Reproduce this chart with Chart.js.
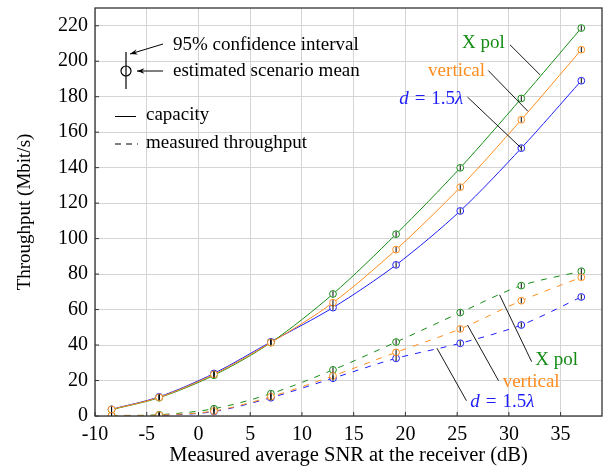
<!DOCTYPE html>
<html>
<head>
<meta charset="utf-8">
<script src="https://cdn.jsdelivr.net/npm/chart.js@4.4.1/dist/chart.umd.min.js"></script>
<style>
  html, body { margin: 0; padding: 0; background: #fff; }
</style>
</head>
<body>
<canvas id="grafico" width="615" height="473"></canvas>
<script>
// measured average SNR (dB) of each scenario
const snr = [-8.4, -3.8, 1.5, 7.0, 13.0, 19.1, 25.3, 31.2, 37.0];

// capacity (Mbit/s)
const capXpol     = [3.6, 10.3, 23.0, 41.4, 68.8, 102.5, 139.9, 179.0, 218.7];
const capVertical = [3.7, 10.5, 23.5, 41.4, 63.9, 93.8, 129.0, 167.0, 206.5];
const capD15      = [3.8, 10.8, 24.0, 41.8, 61.1, 85.2, 115.6, 151.0, 189.0];

// measured throughput (Mbit/s)
const thrXpol     = [0.3, 0.7, 4.1, 12.6, 26.0, 41.7, 58.3, 73.5, 81.6];
const thrVertical = [0.1, 0.5, 2.8, 10.9, 22.6, 35.9, 49.1, 65.0, 78.2];
const thrD15      = [0.0, 0.3, 2.5, 10.3, 21.3, 32.5, 41.0, 51.3, 67.1];

// half width of the 95% confidence interval
const confHalf = 1.5;

const xTicks = [-10, -5, 0, 5, 10, 15, 20, 25, 30, 35];
const yTicks = [0, 20, 40, 60, 80, 100, 120, 140, 160, 180, 200, 220];

const GREEN = 'rgb(20,140,20)';
const ORANGE = 'rgb(255,140,30)';
const BLUE = 'rgb(30,30,250)';
const SERIF = '"Liberation Serif", "Times New Roman", serif';
const TXT = '19px ' + SERIF;

function pts(vals) {
  return snr.map((x, i) => ({ x: x, y: vals[i] }));
}

function serie(label, vals, color, dashed, order) {
  return {
    label: label,
    data: pts(vals),
    borderColor: color,
    backgroundColor: 'white',
    borderWidth: 1,
    borderDash: dashed ? [6, 7] : [],
    tension: 0.3,
    pointRadius: 3.4,
    pointBorderWidth: 1,
    pointBorderColor: color,
    pointBackgroundColor: 'white',
    order: order
  };
}

const data = {
  datasets: [
    serie('capacity vertical', capVertical, ORANGE, false, 1),
    serie('capacity X pol', capXpol, GREEN, false, 2),
    serie('capacity d', capD15, BLUE, false, 3),
    serie('throughput vertical', thrVertical, ORANGE, true, 1),
    serie('throughput X pol', thrXpol, GREEN, true, 2),
    serie('throughput d', thrD15, BLUE, true, 3)
  ]
};

// black confidence bars through each marker
const errorBars = {
  id: 'errorBars',
  afterDatasetsDraw(chart) {
    const c = chart.ctx, ys = chart.scales.y;
    c.save();
    c.strokeStyle = '#000';
    c.lineWidth = 1;
    chart.data.datasets.forEach((ds, i) => {
      const meta = chart.getDatasetMeta(i);
      meta.data.forEach((p, j) => {
        const v = ds.data[j].y;
        c.beginPath();
        c.moveTo(p.x, Math.min(ys.getPixelForValue(v - confHalf), ys.bottom));
        c.lineTo(p.x, ys.getPixelForValue(v + confHalf));
        c.stroke();
      });
    });
    c.restore();
  }
};

function arrow(c, x1, y1, x2, y2) {
  c.beginPath();
  c.moveTo(x1, y1);
  c.lineTo(x2, y2);
  c.stroke();
  const a = Math.atan2(y2 - y1, x2 - x1);
  c.beginPath();
  c.moveTo(x2, y2);
  c.lineTo(x2 - 8 * Math.cos(a - 0.35), y2 - 8 * Math.sin(a - 0.35));
  c.lineTo(x2 - 5 * Math.cos(a), y2 - 5 * Math.sin(a));
  c.lineTo(x2 - 8 * Math.cos(a + 0.35), y2 - 8 * Math.sin(a + 0.35));
  c.closePath();
  c.fill();
}

// d = 1.5λ with italic d and λ, spaced like TeX math
function mathLabel(c, x, y, align) {
  const parts = [
    ['italic ' + TXT, 'd', 6],
    [TXT, '=', 6],
    [TXT, '1.5', 0],
    ['italic ' + TXT, 'λ', 0]
  ];
  let w = 0;
  parts.forEach(p => { c.font = p[0]; w += c.measureText(p[1]).width + p[2]; });
  let cx = align === 'right' ? x - w : x;
  c.textAlign = 'left';
  parts.forEach(p => {
    c.font = p[0];
    c.fillText(p[1], cx, y);
    cx += c.measureText(p[1]).width + p[2];
  });
}

const decor = {
  id: 'decor',
  afterDraw(chart) {
    const c = chart.ctx, a = chart.chartArea;
    const xs = chart.scales.x, ys = chart.scales.y;
    const X = v => xs.getPixelForValue(v), Y = v => ys.getPixelForValue(v);
    c.save();

    // inside tick marks and frame
    c.strokeStyle = '#333';
    c.lineWidth = 1;
    xTicks.forEach(t => {
      c.beginPath(); c.moveTo(X(t), a.bottom); c.lineTo(X(t), a.bottom - 4); c.stroke();
    });
    yTicks.forEach(t => {
      c.beginPath(); c.moveTo(a.left, Y(t)); c.lineTo(a.left + 4, Y(t)); c.stroke();
    });
    c.lineWidth = 1.3;
    c.strokeRect(a.left, a.top, a.right - a.left, a.bottom - a.top);

    // leader lines
    c.strokeStyle = '#000';
    c.lineWidth = 0.9;
    const leaders = [
      [30.1, 209.3, 33.0, 192.4],
      [28.0, 194.8, 31.85, 171.7],
      [26.0, 179.8, 31.2, 151.0],
      [29.1, 68.3, 32.2, 30.6],
      [26.0, 51.3, 29.0, 19.9],
      [23.05, 38.2, 25.9, 8.6]
    ];
    leaders.forEach(l => {
      c.beginPath(); c.moveTo(X(l[0]), Y(l[1])); c.lineTo(X(l[2]), Y(l[3])); c.stroke();
    });

    // series labels
    c.textBaseline = 'middle';
    c.font = TXT;
    c.textAlign = 'right';
    c.fillStyle = GREEN;  c.fillText('X pol', X(29.6), Y(210.4));
    c.fillStyle = ORANGE; c.fillText('vertical', X(27.7), Y(194.6));
    c.fillStyle = BLUE;   mathLabel(c, X(25.6), Y(178.8), 'right');
    c.font = TXT;
    c.textAlign = 'left';
    c.fillStyle = GREEN;  c.fillText('X pol', X(32.55), Y(31.6));
    c.fillStyle = ORANGE; c.fillText('vertical', X(29.4), Y(19.2));
    c.fillStyle = BLUE;   mathLabel(c, X(26.27), Y(8.1), 'left');

    // key in the upper left corner
    const L = a.left, T = a.top;
    c.strokeStyle = '#000';
    c.fillStyle = '#000';
    c.lineWidth = 1.2;
    c.beginPath(); c.moveTo(L + 31, T + 44); c.lineTo(L + 31, T + 81); c.stroke();
    c.beginPath(); c.arc(L + 31, T + 63, 5, 0, Math.PI * 2); c.stroke();
    c.lineWidth = 1;
    arrow(c, L + 68, T + 36, L + 35, T + 46);
    arrow(c, L + 68, T + 63, L + 42, T + 63);
    c.font = TXT;
    c.textAlign = 'left';
    c.fillText('95% confidence interval', L + 78, T + 37);
    c.fillText('estimated scenario mean', L + 78, T + 63);
    c.beginPath(); c.moveTo(L + 20, T + 108.5); c.lineTo(L + 41, T + 108.5); c.stroke();
    c.setLineDash([6, 5]);
    c.beginPath(); c.moveTo(L + 20, T + 136); c.lineTo(L + 43, T + 136); c.stroke();
    c.setLineDash([]);
    c.fillText('capacity', L + 51, T + 107);
    c.fillText('measured throughput', L + 51, T + 135);

    c.restore();
  }
};

const options = {
  responsive: false,
  animation: false,
  layout: { padding: { left: 0, right: 13, top: 8, bottom: 0 } },
  plugins: {
    legend: { display: false },
    tooltip: { enabled: false }
  },
  scales: {
    x: {
      type: 'linear',
      min: -10,
      max: 39,
      afterBuildTicks: s => { s.ticks = xTicks.map(v => ({ value: v })); },
      afterFit: s => { s.height = 57; s.paddingLeft = 0; s.paddingRight = 0; },
      grid: { color: '#d4d4d4', lineWidth: 1, drawTicks: false },
      border: { display: false },
      ticks: { color: '#000', padding: 7, font: { family: SERIF, size: 20 } },
      title: {
        display: true,
        text: 'Measured average SNR at the receiver (dB)',
        color: '#000',
        font: { family: SERIF, size: 20.5 },
        padding: { top: 0, bottom: 5 }
      }
    },
    y: {
      min: 0,
      max: 230,
      afterBuildTicks: s => { s.ticks = yTicks.map(v => ({ value: v })); },
      afterFit: s => { s.width = 95; s.paddingTop = 0; s.paddingBottom = 0; },
      grid: { color: '#d4d4d4', lineWidth: 1, drawTicks: false },
      border: { display: false },
      ticks: { color: '#000', padding: 7, font: { family: SERIF, size: 20 } },
      title: {
        display: true,
        text: 'Throughput (Mbit/s)',
        color: '#000',
        font: { family: SERIF, size: 19 },
        padding: { top: 14, bottom: 0 }
      }
    }
  }
};

new Chart(document.getElementById('grafico').getContext('2d'), {
  type: 'line',
  data: data,
  options: options,
  plugins: [errorBars, decor]
});
</script>
</body>
</html>
